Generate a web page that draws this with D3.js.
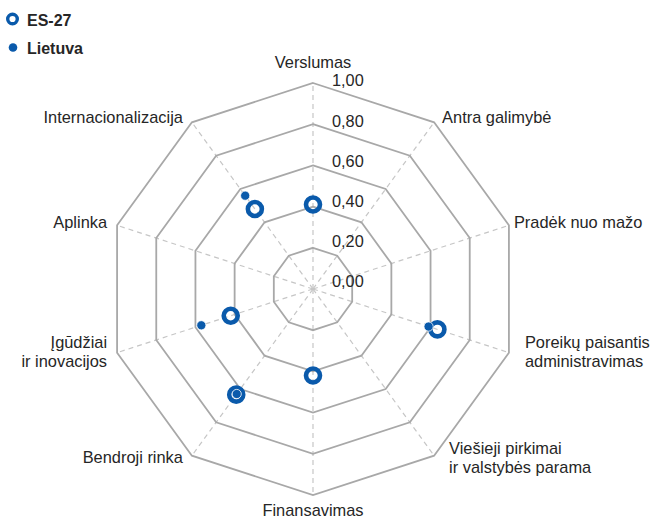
<!DOCTYPE html>
<html><head><meta charset="utf-8">
<script src="https://cdn.jsdelivr.net/npm/d3@7"></script>
<style>body{margin:0;background:#fff}svg{display:block}text{font-family:"Liberation Sans",Arial,sans-serif;fill:#262626}</style>
</head><body><svg id="c" width="652" height="518"></svg>
<script>
const categories = ["Verslumas","Antra galimybė","Pradėk nuo mažo","Poreikų paisantis\nadministravimas","Viešieji pirkimai\nir valstybės parama","Finansavimas","Bendroji rinka","Įgūdžiai\nir inovacijos","Aplinka","Internacionalizacija"];
const es27 = [0.41, null, null, 0.635, null, 0.42, 0.634, 0.42, null, 0.48];
const lietuva = [null, null, null, 0.59, null, null, 0.63, 0.57, null, 0.56];
const ticks = [0, 0.2, 0.4, 0.6, 0.8, 1.0];
const tickLabels = ["0,00","0,20","0,40","0,60","0,80","1,00"];
const seriesNames = ["ES-27","Lietuva"];

const svg = d3.select("#c");
const cx = 313, cy = 289;
const blue = "#0a5aab";
const r = d3.scaleLinear().domain([0,1]).range([0,206]);
const n = categories.length;
const ang = d3.scaleLinear().domain([0,n]).range([0,2*Math.PI]);
const pt = (i,v)=>[cx+r(v)*Math.sin(ang(i)), cy-r(v)*Math.cos(ang(i))];

const g = svg.append("g");
// spokes
g.selectAll("line.spoke").data(categories).join("line")
 .attr("x1",cx).attr("y1",cy)
 .attr("x2",(d,i)=>pt(i,1)[0]).attr("y2",(d,i)=>pt(i,1)[1])
 .attr("stroke","#c6c6c6").attr("stroke-width",1.2).attr("stroke-dasharray","5,4");
// rings
g.selectAll("path.ring").data(ticks.filter(t=>t>0)).join("path")
 .attr("d",t=>d3.line()(d3.range(n).map(i=>pt(i,t)))+"Z")
 .attr("fill","none").attr("stroke","#a8a8a8").attr("stroke-width",1.8);
// tick labels
const ty = d3.scaleLinear().domain([0,1]).range([cy-7.3, cy-7.3-201]);
g.selectAll("text.tick").data(ticks).join("text")
 .attr("x",cx+19).attr("y",t=>ty(t)).attr("dy","0.35em")
 .attr("font-size",16.3).text((t,i)=>tickLabels[i]);
// category labels
const offs = [0, 8, 5, 16, 15, 0, 9, 10, 10, 9];
categories.forEach((c,i)=>{
  const [vx,vy] = pt(i,1);
  const a = ang(i);
  const s = Math.sin(a);
  let anchor = Math.abs(s)<0.01 ? "middle" : (s>0?"start":"end");
  let x = vx + (Math.abs(s)<0.01?0:(s>0?offs[i]:-offs[i]));
  const lines = c.split("\n");
  let yc = vy - 5;
  if (i===0) yc = vy - 21;
  if (i===5) yc = vy + 15;
  if (i===2||i===8) yc = vy - 3;
  if (i===3||i===7) yc = vy - 1;
  if (i===4||i===6) yc = vy + 2;
  const t = g.append("text").attr("text-anchor",anchor).attr("font-size",16.4);
  lines.forEach((l,k)=>{
    t.append("tspan").attr("x",x).attr("y",yc + (k-(lines.length-1)/2)*19).attr("dy","0.35em").text(l);
  });
});
// ES-27 rings
g.selectAll("circle.es").data(es27.map((v,i)=>({v,i})).filter(d=>d.v!=null)).join("circle")
 .attr("cx",d=>pt(d.i,d.v)[0]).attr("cy",d=>pt(d.i,d.v)[1])
 .attr("r",7).attr("fill","none").attr("stroke",blue).attr("stroke-width",4.6);
// Lietuva dots
g.selectAll("circle.lt").data(lietuva.map((v,i)=>({v,i})).filter(d=>d.v!=null)).join("circle")
 .attr("cx",d=>pt(d.i,d.v)[0]).attr("cy",d=>pt(d.i,d.v)[1])
 .attr("r",4.6).attr("fill",blue).attr("stroke","#fff").attr("stroke-width",0.8);
// legend
const lg = svg.append("g");
lg.append("circle").attr("cx",12.5).attr("cy",19).attr("r",4.8).attr("fill","none").attr("stroke",blue).attr("stroke-width",3.4);
lg.append("circle").attr("cx",13).attr("cy",47.5).attr("r",4.3).attr("fill",blue);
lg.selectAll("text").data(seriesNames).join("text")
 .attr("x",27).attr("y",(d,i)=>i===0?20:48).attr("dy","0.35em")
 .attr("font-size",16).attr("font-weight","bold").text(d=>d);
</script></body></html>
